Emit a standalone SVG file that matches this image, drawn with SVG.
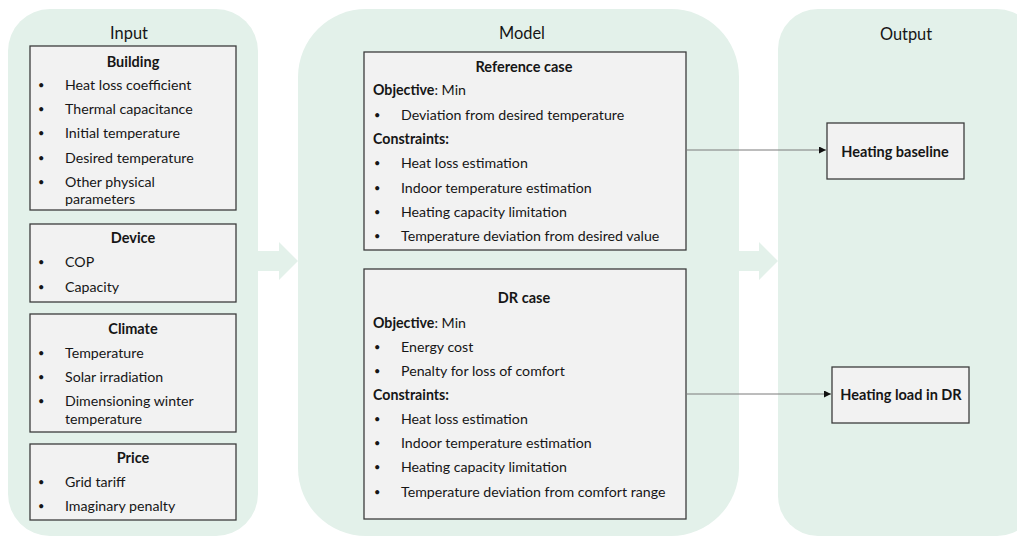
<svg xmlns="http://www.w3.org/2000/svg" width="1017" height="536" viewBox="0 0 1017 536">
  <defs>
    <style>
      .panel { fill: #e3f1ea; }
      .flow { fill: #e3f1ea; }
      .box { fill: #f2f2f2; stroke: #3c3c3c; stroke-width: 1.3; }
      text { font-family: Lato, "Open Sans", sans-serif; fill: #161616; }
      .title { font-size: 16.4px; text-anchor: middle; }
      .head { font-size: 14.5px; font-weight: bold; text-anchor: middle; }
      .item { font-size: 14.2px; }
      .dot { font-size: 11px; }
      .b { font-weight: bold; }
      .conn { stroke: #7a7a7a; stroke-width: 1; fill: none; }
    </style>
    <marker id="arr" viewBox="0 0 10 10" refX="10" refY="5" markerWidth="7" markerHeight="7" orient="auto" markerUnits="userSpaceOnUse">
      <path d="M0,0 L10,5 L0,10 z" fill="#111"/>
    </marker>
  </defs>

  <!-- column backgrounds -->
  <rect class="panel" x="8" y="9" width="250" height="527" rx="42"/>
  <rect class="panel" x="298" y="9" width="441" height="527" rx="68"/>
  <rect class="panel" x="778" y="9" width="259" height="527" rx="40"/>

  <!-- broad flow arrows between columns -->
  <path class="flow" d="M258,251 L279,251 L279,242 L298,261 L279,280 L279,271 L258,271 z"/>
  <path class="flow" d="M739,251 L759,251 L759,242 L778,261 L759,280 L759,271 L739,271 z"/>

  <text class="title" x="129" y="39">Input</text>
  <text class="title" x="522" y="39">Model</text>
  <text class="title" x="906" y="40">Output</text>

  <g id="building">
    <rect class="box" x="30" y="46" width="206" height="164"/>
    <text class="head" x="133" y="67">Building</text>
    <g class="item">
      <text class="dot" x="38" y="89">•</text><text x="65" y="90">Heat loss coefficient</text>
      <text class="dot" x="38" y="113">•</text><text x="65" y="114">Thermal capacitance</text>
      <text class="dot" x="38" y="137">•</text><text x="65" y="138">Initial temperature</text>
      <text class="dot" x="38" y="162">•</text><text x="65" y="163">Desired temperature</text>
      <text class="dot" x="38" y="186">•</text><text x="65" y="187">Other physical</text>
      <text x="65" y="204">parameters</text>
    </g>
  </g>

  <g id="device">
    <rect class="box" x="30" y="224" width="206" height="78"/>
    <text class="head" x="133" y="243">Device</text>
    <g class="item">
      <text class="dot" x="38" y="266">•</text><text x="65" y="267">COP</text>
      <text class="dot" x="38" y="291">•</text><text x="65" y="292">Capacity</text>
    </g>
  </g>

  <g id="climate">
    <rect class="box" x="30" y="314" width="206" height="118"/>
    <text class="head" x="133" y="334">Climate</text>
    <g class="item">
      <text class="dot" x="38" y="357">•</text><text x="65" y="358">Temperature</text>
      <text class="dot" x="38" y="381">•</text><text x="65" y="382">Solar irradiation</text>
      <text class="dot" x="38" y="405">•</text><text x="65" y="406">Dimensioning winter</text>
      <text x="65" y="424">temperature</text>
    </g>
  </g>

  <g id="price">
    <rect class="box" x="30" y="444" width="206" height="76"/>
    <text class="head" x="133" y="463">Price</text>
    <g class="item">
      <text class="dot" x="38" y="486">•</text><text x="65" y="487">Grid tariff</text>
      <text class="dot" x="38" y="510">•</text><text x="65" y="511">Imaginary penalty</text>
    </g>
  </g>

  <g id="reference-case">
    <rect class="box" x="364" y="52" width="322" height="198"/>
    <text class="head" x="524" y="72">Reference case</text>
    <g class="item">
      <text x="373" y="95"><tspan class="b">Objective</tspan>: Min</text>
      <text class="dot" x="374" y="119">•</text><text x="401" y="120">Deviation from desired temperature</text>
      <text x="373" y="144" class="b">Constraints:</text>
      <text class="dot" x="374" y="167">•</text><text x="401" y="168">Heat loss estimation</text>
      <text class="dot" x="374" y="192">•</text><text x="401" y="193">Indoor temperature estimation</text>
      <text class="dot" x="374" y="216">•</text><text x="401" y="217">Heating capacity limitation</text>
      <text class="dot" x="374" y="240">•</text><text x="401" y="241">Temperature deviation from desired value</text>
    </g>
  </g>

  <g id="dr-case">
    <rect class="box" x="364" y="269" width="322" height="250"/>
    <text class="head" x="524" y="303">DR case</text>
    <g class="item">
      <text x="373" y="328"><tspan class="b">Objective</tspan>: Min</text>
      <text class="dot" x="374" y="351">•</text><text x="401" y="352">Energy cost</text>
      <text class="dot" x="374" y="375">•</text><text x="401" y="376">Penalty for loss of comfort</text>
      <text x="373" y="400" class="b">Constraints:</text>
      <text class="dot" x="374" y="423">•</text><text x="401" y="424">Heat loss estimation</text>
      <text class="dot" x="374" y="447">•</text><text x="401" y="448">Indoor temperature estimation</text>
      <text class="dot" x="374" y="471">•</text><text x="401" y="472">Heating capacity limitation</text>
      <text class="dot" x="374" y="496">•</text><text x="401" y="497">Temperature deviation from comfort range</text>
    </g>
  </g>

  <g id="heating-baseline">
    <rect class="box" x="827" y="123" width="137" height="56"/>
    <text class="head" x="895" y="157">Heating baseline</text>
  </g>

  <g id="heating-load-dr">
    <rect class="box" x="832" y="367" width="137" height="56"/>
    <text class="head" x="901" y="400">Heating load in DR</text>
  </g>

  <g id="connectors">
    <line class="conn" x1="686" y1="150" x2="826" y2="150" marker-end="url(#arr)"/>
    <line class="conn" x1="686" y1="394" x2="831" y2="394" marker-end="url(#arr)"/>
  </g>
</svg>
